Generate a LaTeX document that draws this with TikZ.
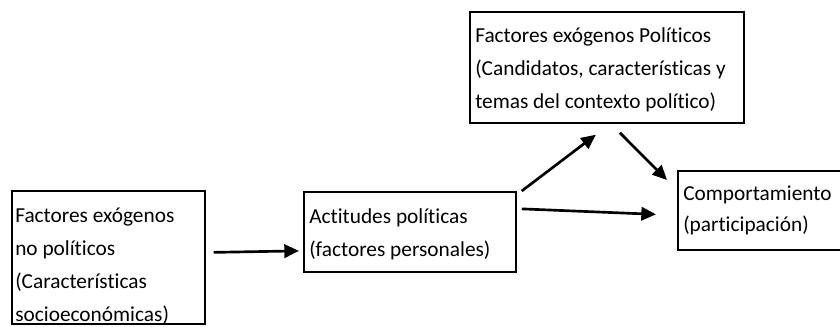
\documentclass[tikz,border=0pt]{standalone}
\usepackage{fontspec}
\setmainfont[Ligatures=NoCommon]{Carlito}
\usetikzlibrary{arrows.meta}

\tikzset{
    caja/.style={draw, line width=1.3pt, rectangle, inner sep=0pt, anchor=north west},
    texto/.style={align=left, inner sep=0pt, anchor=base west,
        font=\fontsize{16}{24.75}\selectfont},
    flecha/.style={line width=2pt, -{Triangle[length=11pt,width=10pt]}}
}

\begin{document}
\begin{tikzpicture}[x=0.75pt, y=-0.75pt]
    \useasboundingbox (0,0) rectangle (840,326);

    % cajas
    \node[caja, minimum width=193*0.75pt, minimum height=133*0.75pt] (noPol) at (11,190) {};
    \node[caja, minimum width=212*0.75pt, minimum height=80*0.75pt] (actitudes) at (303,191) {};
    \node[caja, minimum width=274*0.75pt, minimum height=111*0.75pt] (politicos) at (469,11) {};
    \node[caja, minimum width=170*0.75pt, minimum height=79*0.75pt] (comport) at (677,170) {};

    % textos (base = ultima linea)
    \node[texto] (noPolTxt) at ([shift={(4,131)}]noPol.north west)
        {Factores exógenos\\no políticos\\(Características\\socioeconómicas)};
    \node[texto] (actitudesTxt) at ([shift={(6,65)}]actitudes.north west)
        {Actitudes políticas\\(factores personales)};
    \node[texto] (politicosTxt) at ([shift={(6,97)}]politicos.north west)
        {Factores exógenos Políticos\\(Candidatos, características y\\temas del contexto político)};
    \node[texto, font=\fontsize{16}{23.25}\selectfont] (comportTxt) at ([shift={(6,61)}]comport.north west)
        {Comportamiento\\(participación)};

    % flechas
    \draw[flecha] ([shift={(8,-5)}]noPol.east) -- ([shift={(-4,19)}]actitudes.west);
    \draw[flecha] ([shift={(5,0)}]actitudes.north east) -- ([shift={(-11,11)}]politicos.south);
    \draw[flecha] ([shift={(13,9)}]politicos.south) -- ([shift={(-10,10)}]comport.north west);
    \draw[flecha] ([shift={(5,-23)}]actitudes.east) -- ([shift={(-21,4)}]comport.west);
\end{tikzpicture}
\end{document}
